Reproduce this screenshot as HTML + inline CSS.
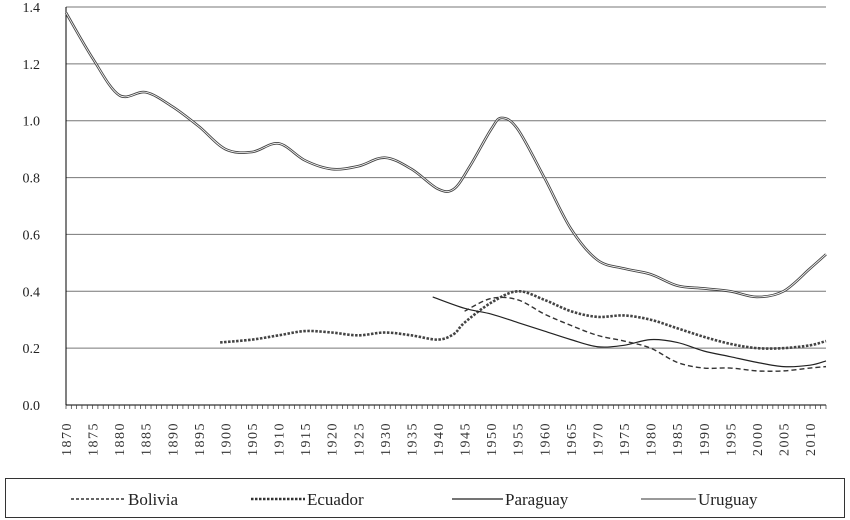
<!DOCTYPE html>
<html><head><meta charset="utf-8"><style>
body{margin:0;background:#fff;font-family:"Liberation Serif",serif}
svg{display:block}
</style></head><body>
<svg id="c" width="850" height="520" xmlns="http://www.w3.org/2000/svg"></svg>
<script>
const yTicks=[0,0.2,0.4,0.6,0.8,1.0,1.2,1.4];
const xLabels=[1870,1875,1880,1885,1890,1895,1900,1905,1910,1915,1920,1925,1930,1935,1940,1945,1950,1955,1960,1965,1970,1975,1980,1985,1990,1995,2000,2005,2010];
const uruguayYears=[1870,1875,1880,1885,1890,1895,1900,1905,1910,1915,1920,1925,1930,1935,1940,1943,1946,1950,1952,1955,1960,1965,1970,1975,1980,1985,1990,1995,2000,2005,2010,2013];
const uruguayVals=[1.38,1.22,1.09,1.10,1.05,0.98,0.90,0.89,0.92,0.86,0.83,0.84,0.87,0.83,0.76,0.76,0.84,0.97,1.01,0.97,0.80,0.62,0.51,0.48,0.46,0.42,0.41,0.40,0.38,0.40,0.48,0.53];
const ecuadorYears=[1899,1905,1910,1915,1920,1925,1930,1935,1940,1943,1945,1950,1955,1960,1965,1970,1975,1980,1985,1990,1995,2000,2005,2010,2013];
const ecuadorVals=[0.22,0.23,0.245,0.26,0.255,0.245,0.255,0.245,0.23,0.25,0.29,0.36,0.40,0.37,0.33,0.31,0.315,0.30,0.27,0.24,0.215,0.20,0.20,0.21,0.225];
const paraguayYears=[1939,1945,1950,1955,1960,1965,1970,1975,1980,1985,1990,1995,2000,2005,2010,2013];
const paraguayVals=[0.38,0.34,0.32,0.29,0.26,0.23,0.205,0.21,0.23,0.22,0.19,0.17,0.15,0.135,0.14,0.155];
const boliviaYears=[1945,1950,1955,1960,1965,1970,1975,1980,1985,1990,1995,2000,2005,2010,2013];
const boliviaVals=[0.33,0.375,0.37,0.32,0.28,0.245,0.225,0.20,0.15,0.13,0.13,0.12,0.12,0.13,0.135];

const NS="http://www.w3.org/2000/svg";
const svg=document.getElementById('c');
const x0=66,x1=826,yr0=1870,yr1=2013,yb=405,yt=7,vmax=1.4;
const X=y=>x0+(y-yr0)*(x1-x0)/(yr1-yr0);
const Y=v=>yb-v*(yb-yt)/vmax;
function el(t,a){const e=document.createElementNS(NS,t);for(const k in a)e.setAttribute(k,a[k]);svg.appendChild(e);return e;}
yTicks.forEach(v=>{
  const g=el('line',{x1:x0,x2:x1,y1:Y(v),y2:Y(v),stroke:v===0?'#000':'#777','stroke-width':1});
  
  
  const t=el('text',{x:40,y:Y(v)+5,'text-anchor':'end','font-size':14,fill:'#222'});
  t.textContent=v.toFixed(1);
  
  
});
const ax=el('line',{x1:x0,x2:x0,y1:yt,y2:yb,stroke:'#000'});


for(let y=yr0;y<=yr1;y++){const tk=el('line',{x1:X(y),x2:X(y),y1:yb,y2:yb+4,stroke:'#333','stroke-width':0.7});

}
xLabels.forEach(y=>{
  const t=el('text',{transform:`translate(${X(y)+5},${yb+51}) rotate(-90)`,'font-size':14,'letter-spacing':'1.5',fill:'#333'});
  t.textContent=y;
  
  
});
function path(xs,vs){
  const p=xs.map((y,i)=>[X(y),Y(vs[i])]);
  let d=`M${p[0][0]},${p[0][1]}`;
  for(let i=0;i<p.length-1;i++){
    const a=p[Math.max(0,i-1)],b=p[i],c=p[i+1],e=p[Math.min(p.length-1,i+2)];
    d+=` C${b[0]+(c[0]-a[0])/6},${b[1]+(c[1]-a[1])/6} ${c[0]-(e[0]-b[0])/6},${c[1]-(e[1]-b[1])/6} ${c[0]},${c[1]}`;
  }
  return d;
}
let s;
s=el('path',{d:path(uruguayYears,uruguayVals),fill:'none',stroke:'#444','stroke-width':2.6});


s=el('path',{d:path(uruguayYears,uruguayVals),fill:'none',stroke:'#fff','stroke-width':0.8});


s=el('path',{d:path(ecuadorYears,ecuadorVals),fill:'none',stroke:'#444','stroke-width':2.6,'stroke-dasharray':'2.5 1.5'});


s=el('path',{d:path(paraguayYears,paraguayVals),fill:'none',stroke:'#222','stroke-width':1.2});


s=el('path',{d:path(boliviaYears,boliviaVals),fill:'none',stroke:'#333','stroke-width':1.4,'stroke-dasharray':'5 3'});


// legend
const lb=el('rect',{x:5.5,y:478.5,width:839,height:39,fill:'none',stroke:'#333'});


const leg=[['Bolivia',71,128,{stroke:'#333','stroke-width':1.4,'stroke-dasharray':'3 2'}],['Ecuador',251,307,{stroke:'#333','stroke-width':2.6,'stroke-dasharray':'2.5 1.5'}],['Paraguay',452,505,{stroke:'#222','stroke-width':1.2}],['Uruguay',641,698,{stroke:'#999','stroke-width':2}]];
leg.forEach(([n,x,tx,st])=>{
  const l=el('line',Object.assign({x1:x,x2:tx-2,y1:499,y2:499},st));
  
  
  const t=el('text',{x:tx,y:505,'font-size':17,fill:'#222'});
  t.textContent=n;
  
  
});
</script>
</body></html>
